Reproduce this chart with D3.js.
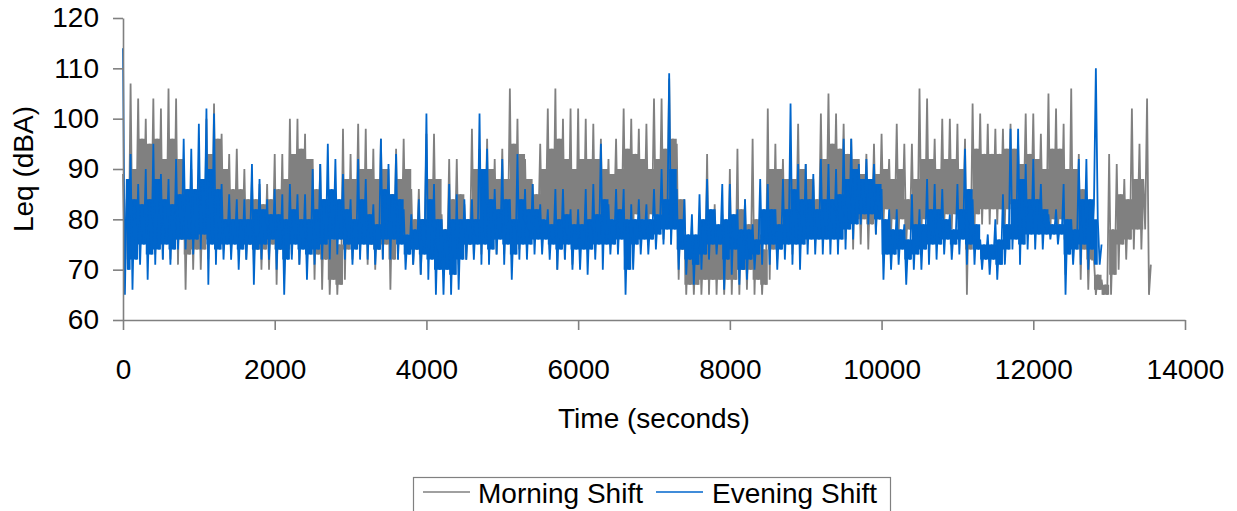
<!DOCTYPE html>
<html>
<head>
<meta charset="utf-8">
<script src="https://cdn.jsdelivr.net/npm/d3@7"></script>
<style>
  html, body { margin: 0; padding: 0; background: #fff; }
  svg { display: block; font-family: "Liberation Sans", Arial, sans-serif; }
</style>
</head>
<body>
<div id="chart"></div>
<script>
// Leq readings, one value every 25 s (peak, dip, body top, body bottom per 100 s)
const SAMPLE_STEP = 25;

const morningLeq = [
  89,68,84,72, 107,74,90,78, 104,76,96,80, 100,75,95,80, 104,73,96,78, 102,72,92,77, 106,72,96,76, 104,71,92,76, 91,66,86,73, 90,70,86,74,
  89,70,84,74, 100,72,93,76, 103,73,96,77, 97,74,90,77, 93,74,86,77, 94,74,86,76, 90,72,84,75, 88,71,84,74, 87,70,83,74, 87,70,84,75,
  93,67,86,74, 93,69,88,74, 100,73,93,78, 100,71,94,77, 97,70,92,75, 92,68,86,73, 91,66,84,72, 84,65,76,68, 82,65,75,67, 98,68,88,74,
  93,72,88,76, 99,73,90,76, 98,71,90,75, 94,70,88,74, 96,72,90,75, 90,66,85,72, 94,72,88,76, 96,74,90,77, 86,71,80,74, 86,69,80,74,
  97,72,88,76, 97,72,88,76, 81,71,78,73, 92,70,84,74, 92,71,85,75, 83,72,80,75, 98,73,90,76, 94,73,88,76, 96,72,90,76, 92,73,88,77,
  94,73,88,77, 106,74,95,78, 100,74,93,78, 92,74,88,77, 87,76,85,78, 95,76,90,80, 102,74,94,78, 106,70,96,76, 100,72,92,77, 102,71,90,76,
  102,73,92,77, 100,74,92,78, 99,75,92,78, 96,77,90,80, 92,76,89,80, 96,76,90,80, 102,76,94,80, 100,77,93,81, 98,76,92,80, 99,78,90,81,
  104,78,92,81, 104,76,94,80, 108,75,96,79, 95,68,84,74, 84,65,76,67, 79,65,74,67, 80,65,75,68, 93,65,80,68, 83,65,78,68, 81,65,77,68,
  90,65,80,68, 94,65,82,70, 84,66,79,70, 96,65,80,68, 77,65,74,67, 102,68,90,74, 95,72,90,76, 92,74,88,78, 93,73,88,77, 99,73,90,77,
  91,75,88,78, 88,76,84,78, 101,77,92,80, 105,78,95,81, 101,78,94,82, 99,76,93,81, 96,74,92,80, 92,75,89,80, 93,74,88,79, 95,77,89,80,
  97,79,90,82, 92,77,88,80, 99,77,90,80, 95,75,84,78, 95,75,88,78, 106,77,92,80, 104,78,92,81, 96,78,90,81, 100,78,92,81, 100,78,92,81,
  99,76,90,80, 96,65,86,74, 103,78,94,81, 101,79,93,82, 99,79,93,82, 98,79,93,82, 98,79,94,82, 99,80,94,83, 95,80,91,83, 101,79,93,82,
  101,78,92,81, 97,78,90,80, 105,77,94,80, 102,76,94,80, 99,69,90,76, 106,72,90,77, 93,68,86,74, 84,66,79,72, 72,65,69,66, 68,65,67,65,
  93,65,78,69, 91,70,85,75, 88,72,84,76, 102,74,88,78, 95,74,88,78, 104,65,71
];

const eveningLeq = [
  114,65,88,70, 93,66,84,72, 87,71,83,75, 90,68,84,73, 95,71,88,74, 89,72,84,75, 88,71,83,74, 92,74,85,76, 96,74,86,76, 94,73,86,76,
  99,74,88,77, 102,67,90,75, 101,71,86,74, 87,72,80,75, 85,72,80,75, 84,70,80,74, 84,72,80,75, 91,67,82,74, 88,72,82,75, 84,72,81,76,
  86,70,81,74, 85,65,80,72, 87,72,82,75, 85,71,80,74, 85,68,80,73, 90,71,82,74, 91,72,84,75, 95,72,86,76, 92,73,84,76, 89,72,82,75,
  84,71,80,74, 92,72,84,75, 88,72,81,75, 83,71,79,74, 96,72,86,76, 91,72,85,76, 93,72,84,75, 82,70,77,73, 81,71,78,74, 84,69,80,73,
  101,68,84,72, 87,65,80,70, 80,65,78,70, 87,65,80,69, 85,66,80,72, 84,72,80,75, 84,72,80,75, 101,71,90,75, 94,71,84,74, 86,73,82,76,
  92,71,84,75, 84,68,80,73, 93,72,84,75, 86,72,82,75, 87,73,82,76, 83,73,80,76, 82,72,79,75, 86,70,80,74, 86,72,81,75, 82,70,79,74,
  82,70,79,74, 86,69,80,74, 87,72,81,75, 95,70,84,75, 83,73,80,75, 86,73,82,76, 86,65,80,70, 83,70,80,75, 84,73,80,76, 83,73,80,76,
  86,74,81,77, 90,75,84,78, 109,75,90,78, 86,70,80,74, 84,69,77,72, 81,67,77,71, 85,70,80,73, 88,72,82,75, 82,73,79,75, 87,66,80,72,
  87,69,81,74, 82,67,78,70, 84,68,78,72, 79,70,76,73, 88,71,82,75, 87,71,82,75, 82,70,79,74, 88,72,82,75, 103,71,86,75, 91,70,84,75,
  91,73,84,76, 89,73,82,76, 92,73,84,76, 91,73,84,76, 90,73,85,76, 96,74,88,78, 96,76,90,79, 91,79,88,81, 92,79,88,81, 91,77,87,80,
  86,68,80,73, 82,70,78,73, 82,71,78,74, 79,67,76,72, 85,70,79,73, 82,70,79,74, 88,71,82,75, 87,72,82,75, 86,73,80,76, 81,72,78,75,
  87,73,82,76, 94,71,86,75, 84,71,79,74, 76,70,75,72, 77,69,75,72, 80,68,76,71, 85,71,79,74, 98,74,84,76, 98,71,88,75, 91,74,84,77,
  92,74,84,77, 87,74,82,77, 81,76,79,77, 82,75,79,77, 87,65,80,73, 80,71,78,74, 92,71,84,75, 92,70,84,74, 83,110,80,71, 75
];

const xTicks = [0, 2000, 4000, 6000, 8000, 10000, 12000, 14000];
const yTicks = [60, 70, 80, 90, 100, 110, 120];

const seriesNames = ["Morning Shift", "Evening Shift"];
const seriesColors = ["#808080", "#0066cc"];

const W = 1237, H = 511;
const plot = { left: 123, right: 1185, top: 18, bottom: 320 };

const svg = d3.select("#chart").append("svg")
    .attr("width", W)
    .attr("height", H);

svg.append("rect").attr("width", W).attr("height", H).attr("fill", "#fff");

const x = d3.scaleLinear().domain([0, 14000]).range([plot.left, plot.right]);
const y = d3.scaleLinear().domain([60, 120]).range([plot.bottom, plot.top]);

const line = d3.line()
    .x((d, i) => x(i * SAMPLE_STEP))
    .y(d => y(d));

// dense part of the trace: body bottom (4th value) to body top (3rd value) of each 100 s group
function bodyBand(data) {
    const out = [];
    for (let i = 0; i + 3 < data.length; i += 4) {
        out.push({ t: i * SAMPLE_STEP + 50, lo: data[i + 3], hi: data[i + 2] });
    }
    return out;
}

const band = d3.area()
    .curve(d3.curveStep)
    .x(d => x(d.t))
    .y0(d => y(d.lo))
    .y1(d => y(d.hi));

// series: gray first, blue drawn over it
[morningLeq, eveningLeq].forEach((data, k) => {
    svg.append("path")
        .datum(bodyBand(data))
        .attr("fill", seriesColors[k])
        .attr("d", band);
    svg.append("path")
        .datum(data)
        .attr("fill", "none")
        .attr("stroke", seriesColors[k])
        .attr("stroke-width", 1.8)
        .attr("d", line);
});

// axes
const xAxis = svg.append("g")
    .attr("transform", `translate(0,${plot.bottom})`)
    .call(d3.axisBottom(x).tickValues(xTicks).tickFormat(d3.format("d")).tickSize(10).tickSizeOuter(0).tickPadding(29));

const yAxis = svg.append("g")
    .attr("transform", `translate(${plot.left},0)`)
    .call(d3.axisLeft(y).tickValues(yTicks).tickSize(10).tickSizeOuter(0).tickPadding(14));

[xAxis, yAxis].forEach(g => {
    g.select(".domain").attr("stroke", "#808080").attr("stroke-width", 1.6);
    g.selectAll(".tick line").attr("stroke", "#808080").attr("stroke-width", 1.6);
    g.selectAll(".tick text")
        .attr("fill", "#000")
        .style("font-size", "28px")
        .style("font-family", "'Liberation Sans', Arial, sans-serif");
});

// axis titles
svg.append("text")
    .attr("x", (plot.left + plot.right) / 2)
    .attr("y", 428)
    .attr("text-anchor", "middle")
    .style("font-size", "28px")
    .text("Time (seconds)");

svg.append("text")
    .attr("transform", `translate(33,${(plot.top + plot.bottom) / 2}) rotate(-90)`)
    .attr("text-anchor", "middle")
    .style("font-size", "28px")
    .text("Leq (dBA)");

// legend
const legend = svg.append("g");
legend.append("rect")
    .attr("x", 413.5).attr("y", 477.5)
    .attr("width", 477).attr("height", 60)
    .attr("fill", "#fff")
    .attr("stroke", "#808080")
    .attr("stroke-width", 1.2);

const legendItems = [
    { x1: 423, x2: 470, tx: 478 },
    { x1: 656, x2: 703, tx: 712 }
];
legendItems.forEach((it, k) => {
    legend.append("line")
        .attr("x1", it.x1).attr("x2", it.x2)
        .attr("y1", 492).attr("y2", 492)
        .attr("stroke", seriesColors[k])
        .attr("stroke-width", 1.6);
    legend.append("text")
        .attr("x", it.tx).attr("y", 503)
        .style("font-size", "28px")
        .text(seriesNames[k]);
});
</script>
</body>
</html>
